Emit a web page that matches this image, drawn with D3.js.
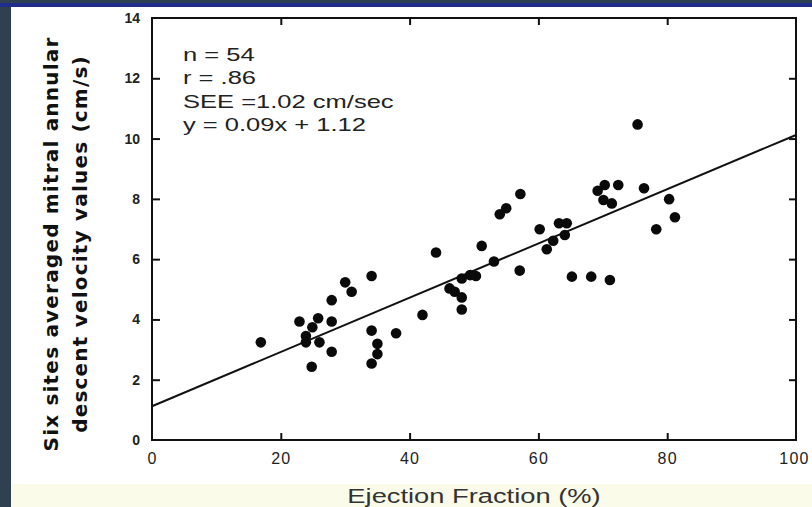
<!DOCTYPE html>
<html>
<head>
<meta charset="utf-8">
<script src="https://cdn.jsdelivr.net/npm/d3@7/dist/d3.min.js"></script>
<style>
  html, body { margin: 0; padding: 0; background: #2f4050; }
  svg { display: block; }
</style>
</head>
<body>
<svg id="chart" width="812" height="507"></svg>
<script>
// Ejection fraction (%) vs. averaged mitral annular descent velocity (cm/s)
const ejectionFraction = [
  16.9, 22.9, 23.9, 23.9, 24.9, 24.8, 25.8, 26.0, 27.9, 27.9,
  27.9, 30.0, 31.0, 34.1, 34.1, 35.0, 35.0, 34.1, 37.9, 42.0,
  44.1, 46.2, 47.0, 48.1, 48.1, 48.1, 49.4, 50.3, 51.2, 53.1,
  54.0, 55.0, 57.2, 57.1, 60.2, 61.3, 62.3, 63.2, 64.4, 64.1,
  65.2, 68.2, 71.1, 69.2, 70.3, 72.4, 70.1, 71.4, 76.4, 80.3,
  81.2, 78.3, 75.4
];
const velocity = [
  3.24, 3.93, 3.45, 3.24, 3.74, 2.43, 4.04, 3.24, 3.93, 2.93,
  4.64, 5.23, 4.92, 5.44, 3.63, 3.19, 2.85, 2.54, 3.54, 4.15,
  6.22, 5.03, 4.92, 4.73, 4.33, 5.36, 5.47, 5.44, 6.44, 5.92,
  7.49, 7.69, 8.16, 5.62, 6.99, 6.33, 6.61, 7.19, 7.19, 6.80,
  5.42, 5.42, 5.31, 8.27, 8.46, 8.46, 7.96, 7.85, 8.35, 7.99,
  7.39, 6.99, 10.47
];

// Regression line y = 0.09x + 1.12
const slope = 0.09;
const intercept = 1.12;

const xTicks = [0, 20, 40, 60, 80, 100];
const yTicks = [0, 2, 4, 6, 8, 10, 12, 14];

const statLines = [
  "n = 54",
  "r = .86",
  "SEE =1.02 cm/sec",
  "y = 0.09x + 1.12"
];

const yTitle = ["Six sites averaged mitral annular", "descent velocity values (cm/s)"];
const xTitle = "Ejection Fraction (%)";

const svg = d3.select("#chart");
const W = 812, H = 507;

// Slide backdrop: dark border strip with a blue rule, white panel
svg.append("rect").attr("x", 0).attr("y", 0).attr("width", W).attr("height", H).attr("fill", "#2f4050");
svg.append("rect").attr("x", 0).attr("y", 3).attr("width", W).attr("height", 4).attr("fill", "#1f2d8c");
svg.append("rect").attr("x", 11).attr("y", 7).attr("width", W - 11).attr("height", H - 7).attr("fill", "#ffffff");
svg.append("rect").attr("x", 11).attr("y", 484).attr("width", W - 11).attr("height", H - 484).attr("fill", "#fbfbea");

const x = d3.scaleLinear().domain([0, 100]).range([152, 796]);
const y = d3.scaleLinear().domain([0, 14]).range([440, 18]);

const inner = v => v > 0 && v < 100;
const innerY = v => v > 0 && v < 14;

const font = "Arial, 'Liberation Sans', Helvetica, sans-serif";

// Bottom axis (ticks point inward)
const gx = svg.append("g").attr("transform", `translate(0,${y(0)})`)
  .call(d3.axisBottom(x).tickValues(xTicks).tickSize(-7).tickPadding(13).tickFormat(d3.format("d")));
gx.select(".domain").remove();
gx.selectAll(".tick line").filter(d => !inner(d)).remove();
gx.selectAll(".tick text").attr("font-size", 16).attr("letter-spacing", 1.2)
  .attr("dx", d => d === 100 ? -2 : 0);

// Left axis
const gy = svg.append("g").attr("transform", `translate(${x(0)},0)`)
  .call(d3.axisLeft(y).tickValues(yTicks).tickSize(-8).tickPadding(12).tickFormat(d3.format("d")));
gy.select(".domain").remove();
gy.selectAll(".tick line").filter(d => !innerY(d)).remove();
gy.selectAll(".tick text").attr("font-size", 14).attr("font-weight", "bold");

// Top and right axes: ticks only
const gt = svg.append("g").attr("transform", `translate(0,${y(14)})`)
  .call(d3.axisTop(x).tickValues(xTicks.filter(inner)).tickSize(-7).tickFormat(""));
gt.select(".domain").remove();
const gr = svg.append("g").attr("transform", `translate(${x(100)},0)`)
  .call(d3.axisRight(y).tickValues(yTicks.filter(innerY)).tickSize(-7).tickFormat(""));
gr.select(".domain").remove();

svg.selectAll(".tick line").attr("stroke", "#111").attr("stroke-width", 2);
svg.selectAll(".tick text").attr("font-family", font).attr("fill", "#222");

// Plot frame
svg.append("rect")
  .attr("x", x(0)).attr("y", y(14))
  .attr("width", x(100) - x(0)).attr("height", y(0) - y(14))
  .attr("fill", "none").attr("stroke", "#111").attr("stroke-width", 2);

// Regression line
svg.append("line")
  .attr("x1", x(0)).attr("y1", y(intercept))
  .attr("x2", x(100)).attr("y2", y(slope * 100 + intercept))
  .attr("stroke", "#111").attr("stroke-width", 2);

// Data points
svg.append("g").selectAll("circle")
  .data(d3.range(ejectionFraction.length))
  .join("circle")
  .attr("cx", i => x(ejectionFraction[i]))
  .attr("cy", i => y(velocity[i]))
  .attr("r", 5.3)
  .attr("fill", "#0a0a0a");

// Statistics block (wide, horizontally stretched lettering)
svg.append("g").attr("transform", "translate(183,0) scale(1.38,1)")
  .selectAll("text")
  .data(statLines)
  .join("text")
  .attr("x", 0)
  .attr("y", (d, i) => 61 + i * 23.5)
  .attr("font-family", font)
  .attr("font-size", 18.5)
  .attr("fill", "#222")
  .text(d => d);

// Y-axis title (two bold lines, rotated)
const yt = svg.append("g").attr("transform", "translate(0,244) rotate(-90)");
yt.selectAll("text")
  .data(yTitle)
  .join("text")
  .attr("x", 0)
  .attr("y", (d, i) => 58 + i * 29)
  .attr("text-anchor", "middle")
  .attr("font-family", "Verdana, 'DejaVu Sans', sans-serif")
  .attr("font-weight", "bold")
  .attr("font-size", 20)
  .attr("letter-spacing", 1.2)
  .attr("fill", "#111")
  .text(d => d);

// X-axis title
svg.append("g").attr("transform", "translate(474,0) scale(1.3,1)")
  .append("text")
  .attr("x", 0).attr("y", 503)
  .attr("text-anchor", "middle")
  .attr("font-family", font)
  .attr("font-size", 21)
  .attr("fill", "#333")
  .text(xTitle);
</script>
</body>
</html>
